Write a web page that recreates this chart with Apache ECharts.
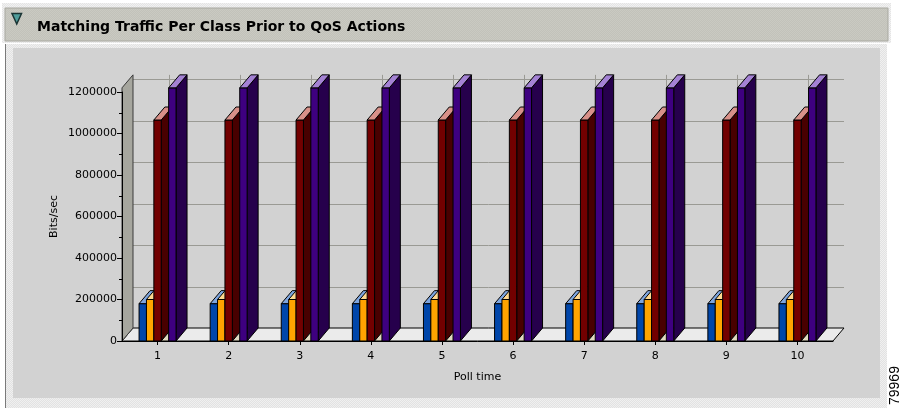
<!DOCTYPE html>
<html>
<head>
<meta charset="utf-8">
<script src="https://cdn.jsdelivr.net/npm/echarts@6/dist/echarts.min.js"></script>
<style>
  html, body { margin: 0; padding: 0; background: #ffffff; }
  #chart { width: 902px; height: 408px; }
</style>
</head>
<body>
<div id="chart"></div>
<script>
// Poll times along the x axis
const categories = ['1', '2', '3', '4', '5', '6', '7', '8', '9', '10'];
// Value axis ticks (bits/sec)
const yTicks = [0, 200000, 400000, 600000, 800000, 1000000, 1200000];
// Matching traffic per class at each poll (bits/sec)
const class1 = [180000, 180000, 180000, 180000, 180000, 180000, 180000, 180000, 180000, 180000];
const class2 = [200000, 200000, 200000, 200000, 200000, 200000, 200000, 200000, 200000, 200000];
const class3 = [1065000, 1065000, 1065000, 1065000, 1065000, 1065000, 1065000, 1065000, 1065000, 1065000];
const class4 = [0, 0, 0, 0, 0, 0, 0, 0, 0, 0];
const class5 = [1220000, 1220000, 1220000, 1220000, 1220000, 1220000, 1220000, 1220000, 1220000, 1220000];

// Oblique depth offset of the 3D look
const DX = 11, DY = -13;
const SLOTS = 5;
const BAR_FRAC = 0.104;

const palettes = [
  { front: '#0046aa', side: '#002a72', top: '#7ea6e0' },
  { front: '#ffa400', side: '#b87000', top: '#ffd890' },
  { front: '#720000', side: '#480000', top: '#d89088' },
  { front: '#e2dcc2', side: '#b8b49c', top: '#e2dac0' },
  { front: '#3e0080', side: '#26004c', top: '#a482d4' }
];

function dotPattern(bg, dot) {
  const c = document.createElement('canvas');
  c.width = 2; c.height = 2;
  const g = c.getContext('2d');
  g.fillStyle = bg; g.fillRect(0, 0, 2, 2);
  g.fillStyle = dot; g.fillRect(0, 0, 1, 1); g.fillRect(1, 1, 1, 1);
  return { image: c, repeat: 'repeat' };
}

function barRenderer(slot, colors) {
  return function (params, api) {
    const cat = api.value(0), val = api.value(1);
    const base = api.coord([cat, 0]);
    const top = api.coord([cat, val]);
    const bw = api.size([1, 0])[0] * BAR_FRAC;
    const x0 = base[0] - bw * SLOTS / 2 + slot * bw;
    const x1 = x0 + bw;
    const y0 = base[1], y1 = top[1];
    const line = { stroke: '#000000', lineWidth: 1 };
    return {
      type: 'group',
      children: [
        { type: 'polygon', shape: { points: [[x1, y0], [x1 + DX, y0 + DY], [x1 + DX, y1 + DY], [x1, y1]] },
          style: Object.assign({ fill: colors.side }, line) },
        { type: 'polygon', shape: { points: [[x0, y0], [x1, y0], [x1, y1], [x0, y1]] },
          style: Object.assign({ fill: colors.front }, line) },
        { type: 'polygon', shape: { points: [[x0, y1], [x1, y1], [x1 + DX, y1 + DY], [x0 + DX, y1 + DY]] },
          style: Object.assign({ fill: colors.top }, line) }
      ]
    };
  };
}

const allSeries = [class1, class2, class3, class4, class5];
const wallTopValue = Math.max.apply(null, allSeries.map(s => Math.max.apply(null, s)));

function wallRenderer(params, api) {
  const cs = params.coordSys;
  const left = cs.x, right = cs.x + cs.width, bottom = cs.y + cs.height;
  const wallTop = api.coord([0, wallTopValue])[1];
  const children = [];
  // floor
  children.push({ type: 'polygon',
    shape: { points: [[left, bottom], [right, bottom], [right + DX, bottom + DY], [left + DX, bottom + DY]] },
    style: { fill: '#ebebeb', stroke: '#000000', lineWidth: 1 } });
  // back-wall gridlines
  yTicks.slice(1).forEach(v => {
    const y = Math.round(api.coord([0, v])[1] + DY) + 0.5;
    children.push({ type: 'line', shape: { x1: left + DX, y1: y, x2: right + DX, y2: y },
      style: { stroke: '#9a9a94', lineWidth: 1 } });
  });
  categories.forEach((c, i) => {
    const x = Math.round(api.coord([i, 0])[0] + DX) + 0.5;
    children.push({ type: 'line', shape: { x1: x, y1: bottom + DY, x2: x, y2: wallTop + DY },
      style: { stroke: '#9a9a94', lineWidth: 1 } });
  });
  // side wall
  children.push({ type: 'polygon',
    shape: { points: [[left, bottom], [left + DX, bottom + DY], [left + DX, wallTop + DY], [left, wallTop]] },
    style: { fill: '#a6a69e', stroke: '#3a3a3a', lineWidth: 1 } });
  return { type: 'group', children: children };
}

const font = 'DejaVu Sans';
const chart = echarts.init(document.getElementById('chart'));

const barSeries = allSeries.map((vals, k) => ({
  type: 'custom',
  name: 'Class ' + (k + 1),
  z: 3,
  clip: false,
  silent: true,
  renderItem: barRenderer(k, palettes[k]),
  data: vals.map((v, i) => [i, v])
}));

chart.setOption({
  animation: false,
  backgroundColor: '#ffffff',
  graphic: [
    { type: 'rect', z: -10, shape: { x: 2, y: 3, width: 889, height: 40 },
      style: { fill: dotPattern('#e4e4e4', '#f2f2f2') } },
    { type: 'rect', z: -9, shape: { x: 5, y: 8, width: 883, height: 33 },
      style: { fill: dotPattern('#c2c2ba', '#cacac2'), stroke: '#a8a8a0', lineWidth: 1 } },
    { type: 'polygon', z: -8, shape: { points: [[12, 13.5], [21.5, 13.5], [16.75, 24]] },
      style: { fill: '#4f9c9a', stroke: '#1a3434', lineWidth: 1.5 } },
    { type: 'text', z: -8, style: { text: 'Matching Traffic Per Class Prior to QoS Actions',
      x: 37, y: 27, verticalAlign: 'middle', fill: '#000000',
      font: 'bold 14px "DejaVu Sans"' } },
    { type: 'rect', z: -10, shape: { x: 5, y: 44, width: 882, height: 364 },
      style: { fill: dotPattern('#e2e2e2', '#f0f0f0') } },
    { type: 'line', z: -9, shape: { x1: 5.5, y1: 44, x2: 5.5, y2: 408 },
      style: { stroke: '#7a7a7a', lineWidth: 1 } },
    { type: 'rect', z: -9, shape: { x: 13, y: 48, width: 867, height: 350 },
      style: { fill: '#d2d2d2' } },
    { type: 'text', z: -8, rotation: Math.PI / 2, x: 888, y: 405,
      style: { text: '79969', x: 0, y: 0, fill: '#000000', verticalAlign: 'top',
        font: '14px "Liberation Sans"' } }
  ],
  grid: { left: 122, right: 69, top: 92, bottom: 67, containLabel: false },
  xAxis: {
    type: 'category',
    data: categories,
    z: 6,
    name: 'Poll time',
    nameLocation: 'middle',
    nameGap: 31,
    nameMoveOverlap: false,
    nameTextStyle: { fontFamily: font, fontSize: 11, color: '#000000' },
    axisLine: { show: true, lineStyle: { color: '#000000', width: 1 } },
    axisTick: { show: true, alignWithLabel: true, length: 4, lineStyle: { color: '#000000' } },
    axisLabel: { fontFamily: font, fontSize: 11, color: '#000000', margin: 10 },
    splitLine: { show: false }
  },
  yAxis: {
    type: 'value',
    min: 0,
    max: 1200000,
    interval: 200000,
    z: 6,
    name: 'Bits/sec',
    nameLocation: 'middle',
    nameRotate: 90,
    nameGap: 62,
    nameMoveOverlap: false,
    nameTextStyle: { fontFamily: font, fontSize: 11, color: '#000000' },
    axisLine: { show: true, lineStyle: { color: '#000000', width: 1 } },
    axisTick: { show: true, length: 5, lineStyle: { color: '#000000' } },
    minorTick: { show: true, splitNumber: 2, length: 3, lineStyle: { color: '#000000' } },
    axisLabel: { fontFamily: font, fontSize: 11, color: '#000000', margin: 5,
      formatter: v => String(v) },
    splitLine: { show: false }
  },
  series: [
    { type: 'custom', name: 'walls', z: 1, clip: false, silent: true,
      renderItem: wallRenderer, data: [[0, 0]] }
  ].concat(barSeries)
});
</script>
</body>
</html>
